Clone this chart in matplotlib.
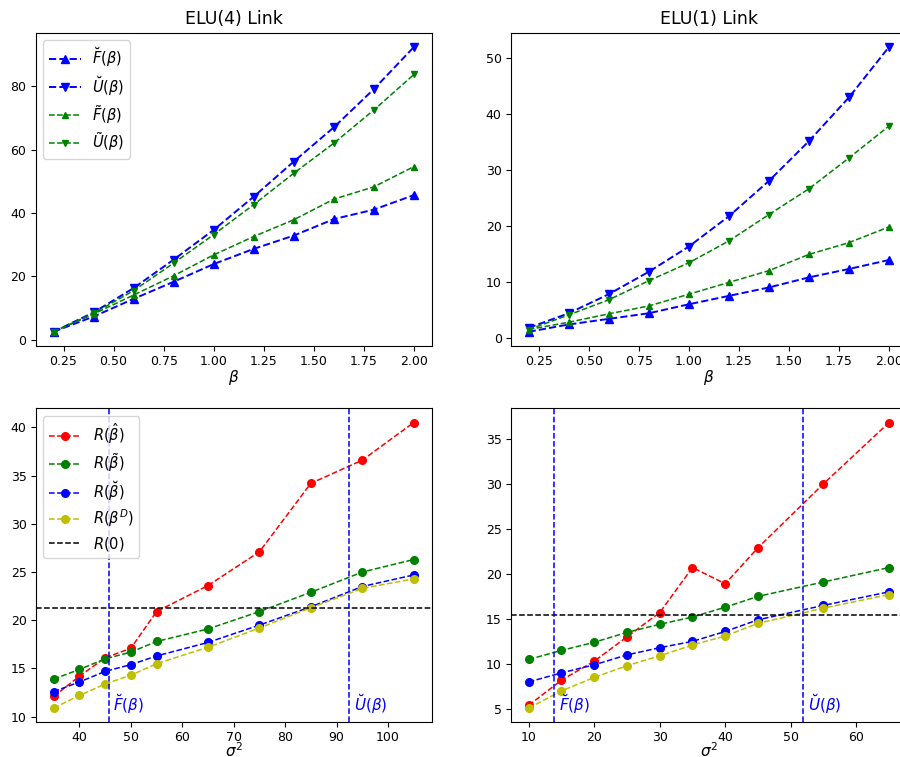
import matplotlib
matplotlib.use('Agg')
import matplotlib.pyplot as plt
import numpy as np

# beta grid for the top panels
beta = [0.2, 0.4, 0.6, 0.8, 1.0, 1.2, 1.4, 1.6, 1.8, 2.0]

# ELU(4) link
F_breve4 = [2.5, 7.3, 12.9, 18.3, 23.9, 28.7, 32.9, 38.1, 41.1, 45.7]
U_breve4 = [2.5, 8.6, 16.3, 25.3, 34.7, 45.2, 56.3, 67.1, 79.2, 92.5]
F_tilde4 = [2.5, 8.1, 14.1, 20.2, 26.8, 32.6, 37.9, 44.4, 48.3, 54.7]
U_tilde4 = [2.5, 8.3, 15.5, 24.2, 33.2, 42.7, 52.6, 62.1, 72.6, 83.8]

# ELU(1) link
F_breve1 = [1.1, 2.4, 3.4, 4.4, 6.0, 7.5, 9.0, 10.8, 12.3, 13.9]
U_breve1 = [1.8, 4.4, 7.8, 11.8, 16.3, 21.7, 28.0, 35.1, 42.9, 51.9]
F_tilde1 = [1.5, 2.8, 4.3, 5.7, 7.8, 9.9, 12.0, 14.9, 17.0, 19.8]
U_tilde1 = [1.5, 4.1, 6.8, 10.2, 13.4, 17.3, 22.0, 26.6, 32.1, 37.8]

# risk vs sigma^2, ELU(4)
sig4 = [35, 40, 45, 50, 55, 65, 75, 85, 95, 105]
R_hat4 = [12.1, 14.2, 16.1, 17.1, 20.9, 23.6, 27.1, 34.2, 36.6, 40.5]
R_tilde4 = [13.9, 14.9, 16.0, 16.7, 17.8, 19.1, 20.9, 22.9, 25.0, 26.3]
R_breve4 = [12.6, 13.6, 14.7, 15.4, 16.3, 17.7, 19.5, 21.4, 23.5, 24.7]
R_D4 = [10.9, 12.2, 13.4, 14.3, 15.5, 17.2, 19.2, 21.3, 23.3, 24.3]
R0_4 = 21.3

# risk vs sigma^2, ELU(1)
sig1 = [10, 15, 20, 25, 30, 35, 40, 45, 55, 65]
R_hat1 = [5.4, 8.2, 10.3, 13.0, 15.7, 20.7, 18.9, 22.9, 30.0, 36.8]
R_tilde1 = [10.5, 11.5, 12.4, 13.5, 14.4, 15.2, 16.3, 17.5, 19.1, 20.7]
R_breve1 = [8.0, 9.0, 9.9, 11.0, 11.8, 12.5, 13.6, 14.9, 16.5, 18.0]
R_D1 = [5.1, 7.0, 8.5, 9.8, 10.9, 12.1, 13.1, 14.5, 16.2, 17.7]
R0_1 = 15.4

W, H = 900, 757
fig = plt.figure(figsize=(W/100, H/100), dpi=100)

def px_axes(left, top, right, bottom):
    return fig.add_axes([left/W, 1-bottom/H, (right-left)/W, (bottom-top)/H])

ax1 = px_axes(35.5, 32.7, 432, 346)
ax2 = px_axes(510.7, 32.7, 907, 346)
ax3 = px_axes(35.7, 408.3, 431.7, 722.3)
ax4 = px_axes(510.7, 408.3, 907, 722.3)

def top_panel(ax, Fb, Ub, Ft, Ut, title, legend):
    ax.plot(beta, Fb, 'b--', marker='^', ms=6, lw=1.4, label=r'$\breve{F}(\beta)$')
    ax.plot(beta, Ub, 'b--', marker='v', ms=6, lw=1.4, label=r'$\breve{U}(\beta)$')
    ax.plot(beta, Ft, 'g--', marker='^', ms=4.5, lw=1.1, label=r'$\tilde{F}(\beta)$')
    ax.plot(beta, Ut, 'g--', marker='v', ms=4.5, lw=1.1, label=r'$\tilde{U}(\beta)$')
    ax.set_title(title, fontsize=12.5)
    ax.set_xlabel(r'$\beta$', fontsize=11, labelpad=0)
    ax.tick_params(labelsize=9, pad=3)
    if legend:
        ax.legend(loc='upper left', fontsize=10.5, labelspacing=0.35, handlelength=2.2)

top_panel(ax1, F_breve4, U_breve4, F_tilde4, U_tilde4, 'ELU(4) Link', True)
top_panel(ax2, F_breve1, U_breve1, F_tilde1, U_tilde1, 'ELU(1) Link', False)

def bottom_panel(ax, sig, Rh, Rt, Rb, Rd, R0, Fline, Uline, legend):
    ax.plot(sig, Rh, 'r--', marker='o', ms=5.5, lw=1.1, label=r'$R(\hat{\beta})$')
    ax.plot(sig, Rt, 'g--', marker='o', ms=5.5, lw=1.1, label=r'$R(\tilde{\beta})$')
    ax.plot(sig, Rb, 'b--', marker='o', ms=5.5, lw=1.1, label=r'$R(\breve{\beta})$')
    ax.plot(sig, Rd, 'y--', marker='o', ms=5.5, lw=1.1, label=r'$R(\beta^D)$')
    ax.axhline(R0, color='k', ls='--', lw=1.1, label=r'$R(0)$')
    ax.axvline(Fline, color='b', ls='--', lw=1.1)
    ax.axvline(Uline, color='b', ls='--', lw=1.1)
    tr = ax.get_xaxis_transform()
    dx = 0.012*(ax.get_xlim()[1]-ax.get_xlim()[0])
    ax.text(Fline + dx, 0.02, r'$\breve{F}(\beta)$', color='b', fontsize=11,
            transform=tr, va='bottom')
    ax.text(Uline + dx, 0.02, r'$\breve{U}(\beta)$', color='b', fontsize=11,
            transform=tr, va='bottom')
    ax.set_xlabel(r'$\sigma^2$', fontsize=11, labelpad=-2)
    ax.tick_params(labelsize=9, pad=3)
    if legend:
        ax.legend(loc='upper left', fontsize=10.5, labelspacing=0.35, handlelength=2.2)

bottom_panel(ax3, sig4, R_hat4, R_tilde4, R_breve4, R_D4, R0_4, F_breve4[-1], U_breve4[-1], True)
bottom_panel(ax4, sig1, R_hat1, R_tilde1, R_breve1, R_D1, R0_1, F_breve1[-1], U_breve1[-1], False)

fig.savefig('out.png', dpi=100)
